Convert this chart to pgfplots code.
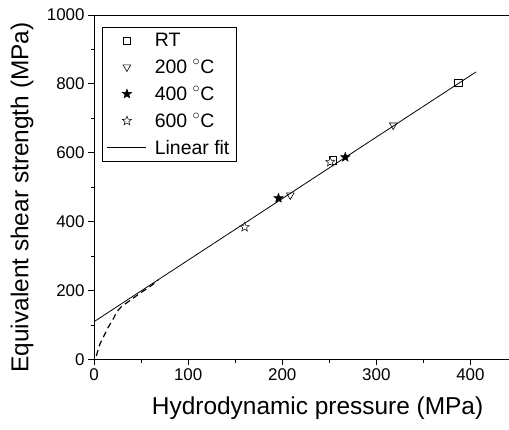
\documentclass[border=0pt]{standalone}
\usepackage{pgfplots}
\pgfplotsset{compat=1.18}
\usepackage{fontspec}
\setmainfont{Liberation Sans}
\pgfdeclareplotmark{pstar}{%
  \pgfpathmoveto{\pgfpointpolar{90}{\pgfplotmarksize}}%
  \pgfpathlineto{\pgfpointpolar{126}{0.42\pgfplotmarksize}}%
  \pgfpathlineto{\pgfpointpolar{162}{\pgfplotmarksize}}%
  \pgfpathlineto{\pgfpointpolar{198}{0.42\pgfplotmarksize}}%
  \pgfpathlineto{\pgfpointpolar{234}{\pgfplotmarksize}}%
  \pgfpathlineto{\pgfpointpolar{270}{0.42\pgfplotmarksize}}%
  \pgfpathlineto{\pgfpointpolar{306}{\pgfplotmarksize}}%
  \pgfpathlineto{\pgfpointpolar{342}{0.42\pgfplotmarksize}}%
  \pgfpathlineto{\pgfpointpolar{18}{\pgfplotmarksize}}%
  \pgfpathlineto{\pgfpointpolar{54}{0.42\pgfplotmarksize}}%
  \pgfpathclose
  \pgfusepathqfillstroke}
\begin{document}
\begin{tikzpicture}
\begin{axis}[
  scale only axis, width=423bp, height=344bp,
  xmin=0, xmax=450, ymin=0, ymax=1000,
  xtick={0,100,200,300,400}, minor xtick={50,150,250,350},
  ytick={0,200,400,600,800,1000}, minor ytick={100,300,500,700,900},
  tick align=outside, xtick pos=bottom, ytick pos=left,
  major tick length=6bp, minor tick length=3.5bp,
  tick style={black, line width=0.8pt},
  axis line style={line width=1pt},
  /pgf/number format/assume math mode=true,
  /pgf/number format/1000 sep={},
  ticklabel style={font=\fontsize{17}{20}\selectfont},
  label style={font=\fontsize{24.5}{28}\selectfont},
  xlabel={Hydrodynamic pressure (MPa)},
  ylabel={Equivalent shear strength (MPa)},
  xlabel style={at={(axis description cs:0.528,-0.142)}, anchor=center},
  ylabel style={at={(axis description cs:-0.170,0.47)}, anchor=center},
  legend cell align=left,
  legend image code/.code={\draw[mark repeat=2,mark phase=2,#1] plot coordinates {(0bp,0bp) (19.5bp,0bp) (39bp,0bp)};},
  legend style={at={(axis description cs:0.018,0.966)}, anchor=north west,
    font=\fontsize{19.5}{22}\selectfont, draw=black, line width=0.6pt,
    row sep=7.5bp, inner xsep=5bp, inner ysep=4bp,
    /tikz/every odd column/.append style={column sep=6bp}},
]
\addplot[only marks, mark=square, mark size=3.6bp, black, line width=0.6pt]
  coordinates {(387,804) (254,578)};
\addlegendentry{RT}
\addplot[only marks, mark=triangle, mark size=4.4bp, mark options={rotate=180}, black, line width=0.6pt]
  coordinates {(318,680) (208.5,477)};
\addlegendentry{200 $^\circ$C}
\addplot[only marks, mark=pstar, mark size=4.8bp, mark options={fill=black}, black, line width=0.5pt]
  coordinates {(196,468) (267,587)};
\addlegendentry{400 $^\circ$C}
\addplot[only marks, mark=pstar, mark size=4.8bp, mark options={fill=white}, black, line width=0.5pt]
  coordinates {(160,384) (251,573)};
\addlegendentry{600 $^\circ$C}
\addplot[black, line width=0.8pt, no marks] coordinates {(0,109.4) (406,834.8)};
\addlegendentry{Linear fit}
\addplot[black, line width=1.2pt, dash pattern=on 6bp off 4bp, no marks, forget plot]
  coordinates {(2.5,10) (3.5,21) (6.4,46) (10.6,69) (15.2,94) (19.9,115) (24.1,138) (29.4,154) (38.3,171) (47.2,189) (56,205) (61.3,215) (68,230)};
\coordinate (R) at (axis cs:441,1000);
\end{axis}
\pgfresetboundingbox
\path[use as bounding box] ([xshift=-94bp,yshift=-70bp]current axis.south west) rectangle ([yshift=15bp]R);
\end{tikzpicture}
\end{document}
